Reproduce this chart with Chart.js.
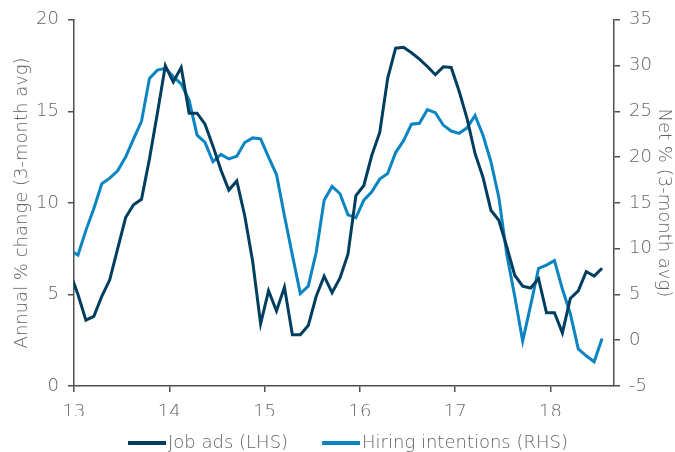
<!DOCTYPE html>
<html><head><meta charset="utf-8">
<script src="https://cdn.jsdelivr.net/npm/chart.js@4.4.0/dist/chart.umd.min.js"></script>
<style>html,body{margin:0;padding:0;background:#fff;overflow:hidden}canvas{display:block}</style>
</head><body>
<canvas id="c" width="675" height="452"></canvas>
<script>
// Monthly observations, first entry = Dec 2012, last = Jul 2018 (plotted at mid-month)
const firstMonth = { year: 2012, month: 12 };
const jobAds = [
  6.2, 5.0, 3.6, 3.8, 4.9, 5.8, 7.5, 9.2, 9.9, 10.2, 12.4, 14.9, 17.5,
  16.6, 17.4, 14.9, 14.9, 14.3, 13.1, 11.8, 10.7, 11.2, 9.3, 6.8, 3.4,
  5.2, 4.1, 5.4, 2.8, 2.8, 3.3, 4.9, 6.0, 5.1, 5.9, 7.2, 10.4,
  10.95, 12.6, 13.85, 16.8, 18.45, 18.5, 18.2, 17.85, 17.45, 17.0, 17.43, 17.4,
  16.1, 14.6, 12.7, 11.4, 9.6, 9.05, 7.6, 6.05, 5.45, 5.35, 5.86, 4.0,
  4.0, 2.9, 4.78, 5.2, 6.25, 6.0, 6.43
];
const hiringIntentions = [
  9.8, 9.3, 12.0, 14.4, 17.1, 17.7, 18.5, 20.0, 22.0, 23.9, 28.6, 29.5, 29.7,
  28.8, 28.0, 26.2, 22.4, 21.6, 19.5, 20.3, 19.8, 20.1, 21.6, 22.1, 22.0,
  20.0, 18.1, 13.6, 9.3, 5.1, 5.9, 9.6, 15.3, 16.8, 16.0, 13.7, 13.4,
  15.3, 16.2, 17.6, 18.2, 20.5, 21.8, 23.6, 23.7, 25.2, 24.85, 23.5, 22.85,
  22.6, 23.2, 24.55, 22.4, 19.5, 15.6, 9.35, 4.8, -0.1, 3.8, 7.85, 8.2,
  8.7, 5.6, 2.9, -0.95, -1.7, -2.35, 0.2
];
const xTickLabels = ['13', '14', '15', '16', '17', '18'];
const seriesNames = ['Job ads (LHS)', 'Hiring intentions (RHS)'];
const leftTitle = 'Annual % change (3-month avg)';
const rightTitle = 'Net % (3-month avg)';

const colors = ['#003E5F', '#0A85C2'];
const textColor = '#636363';
const axisColor = '#4f4f4f';
const FONT = '"DejaVu Sans", "Open Sans", sans-serif';

// months since Jan 2013, positioned at mid-month
function monthPos(i) {
  const m = (firstMonth.year - 2013) * 12 + (firstMonth.month - 1) + i;
  return m + 0.5;
}
const jobPts = jobAds.map((v, i) => ({ x: monthPos(i), y: v }));
const hirePts = hiringIntentions.map((v, i) => ({ x: monthPos(i), y: v }));

const legendPlugin = {
  id: 'customLegend',
  afterDraw(chart) {
    const ctx = chart.ctx;
    ctx.save();
    ctx.font = '200 18px ' + FONT;
    const markerW = 38, gap = 2, itemGap = 34;
    const widths = seriesNames.map(n => markerW + gap + ctx.measureText(n).width);
    const total = widths.reduce((a, b) => a + b, 0) + itemGap * (widths.length - 1);
    let x = (chart.chartArea.left + chart.chartArea.right) / 2 + 4 - total / 2;
    const y = 443;
    seriesNames.forEach((n, i) => {
      ctx.strokeStyle = colors[i];
      ctx.lineWidth = 4;
      ctx.beginPath();
      ctx.moveTo(x, y);
      ctx.lineTo(x + markerW, y);
      ctx.stroke();
      ctx.fillStyle = textColor;
      ctx.textBaseline = 'middle';
      ctx.textAlign = 'left';
      ctx.fillText(n, x + markerW + gap, y);
      x += widths[i] + itemGap;
    });
    ctx.restore();
  }
};

const tickFont = { family: FONT, size: 18, weight: '200' };
const gridCfg = { display: true, drawOnChartArea: false, drawTicks: true, tickLength: 6, color: axisColor, lineWidth: 1.5 };
const borderCfg = { display: true, color: axisColor, width: 1.5 };

new Chart(document.getElementById('c'), {
  type: 'line',
  data: {
    datasets: [
      { label: seriesNames[0], data: jobPts, yAxisID: 'yL', borderColor: colors[0], borderWidth: 3,
        pointRadius: 0, tension: 0, fill: false, clip: 0 },
      { label: seriesNames[1], data: hirePts, yAxisID: 'yR', borderColor: colors[1], borderWidth: 3,
        pointRadius: 0, tension: 0, fill: false, clip: 0 }
    ]
  },
  options: {
    responsive: false,
    animation: false,
    devicePixelRatio: 1,
    layout: { padding: { top: 19, bottom: 36, left: 0, right: 0 } },
    plugins: { legend: { display: false }, tooltip: { enabled: false } },
    scales: {
      x: {
        type: 'linear', min: 0, max: 68,
        grid: gridCfg, border: borderCfg,
        afterBuildTicks: s => { s.ticks = xTickLabels.map((_, i) => ({ value: i * 12 })); },
        ticks: { font: tickFont, color: textColor, padding: 10, maxRotation: 0,
          callback: v => xTickLabels[Math.round(v / 12)] },
        afterFit: s => { s.height = 30; }
      },
      yL: {
        position: 'left', min: 0, max: 20,
        grid: gridCfg, border: borderCfg,
        ticks: { stepSize: 5, font: tickFont, color: textColor, padding: 9 },
        title: { display: true, text: leftTitle, font: tickFont, color: textColor, padding: { top: 12, bottom: 0 } },
        afterFit: s => { s.width = 74; }
      },
      yR: {
        position: 'right', min: -5, max: 35,
        grid: gridCfg, border: borderCfg,
        ticks: { stepSize: 5, font: tickFont, color: textColor, padding: 9 },
        title: { display: true, text: rightTitle, font: tickFont, color: textColor, padding: { top: 1, bottom: 0 } },
        afterFit: s => { s.width = 61; }
      }
    }
  },
  plugins: [legendPlugin]
});
</script>
</body></html>
